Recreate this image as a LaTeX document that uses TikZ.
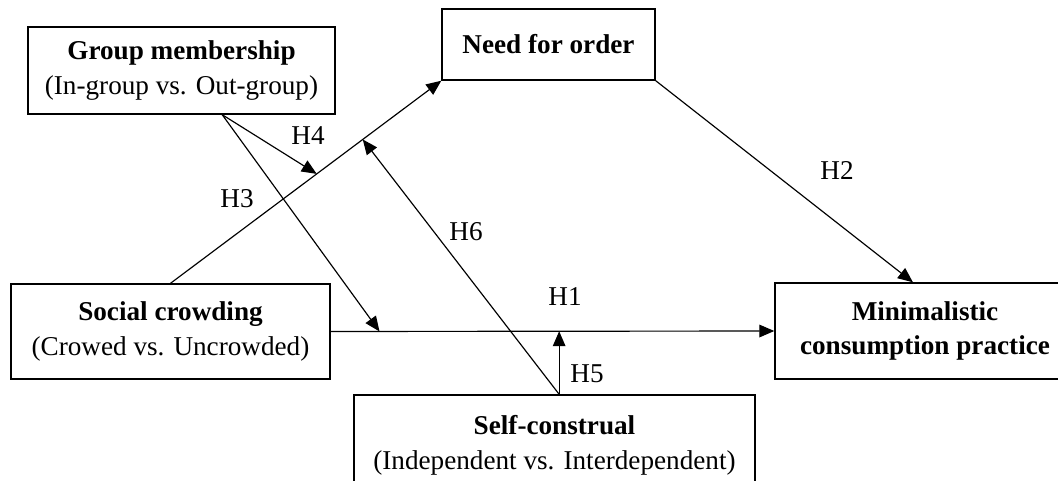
\documentclass[tikz,border=0pt]{standalone}
\usepackage{fontspec}
\setmainfont{Liberation Serif}
\usetikzlibrary{arrows.meta,calc}

\begin{document}
\begin{tikzpicture}[x=0.015cm,y=-0.015cm,
  box/.style={draw,line width=0.6pt,align=center,inner sep=2pt,font=\fontsize{11.6}{14.8}\selectfont},
  hyp/.style={-{Triangle[length=6.4pt,width=5.4pt]},line width=0.5pt},
  lab/.style={font=\fontsize{11.6}{14.8}\selectfont,inner sep=0pt}]
 \useasboundingbox (0,0) rectangle (1058,481);
 % boxes
 \node[box,minimum width=4.605cm,minimum height=1.305cm] (grp) at (181.5,70.5) {\textbf{Group membership}\\(In-group vs. Out-group)};
 \node[box,minimum width=3.195cm,minimum height=1.065cm] (need) at (548.5,44.5) {\textbf{Need for order}};
 \node[box,minimum width=4.785cm,minimum height=1.425cm] (soc) at (170.5,331.5) {\textbf{Social crowding}\\(Crowed vs. Uncrowded)};
 \node[box,minimum width=4.5cm,minimum height=1.44cm] (mini) at (925,331) {\textbf{Minimalistic}\\\textbf{consumption practice}};
 \node[box,minimum width=6.015cm,minimum height=1.5cm] (self) at (554.5,445) {\textbf{Self-construal}\\(Independent vs. Interdependent)};

 \coordinate (g4) at ($(grp.south west)!0.632!(grp.south east)$);
 \coordinate (m4) at ($(soc.north)!0.54!(need.south west)$);
 \coordinate (m6) at ($(soc.north)!0.71!(need.south west)$);
 \coordinate (m1) at ($(soc.east)!0.11!(mini.west)$);
 \coordinate (m5) at ($(soc.east)!0.515!(mini.west)$);
 \coordinate (s5) at (self.north -| m5);
 \coordinate (n2) at ($(mini.north west)!0.46!(mini.north east)$);

 % paths
 \draw[hyp] (soc.north) -- (need.south west);
 \draw[hyp] (soc.east) -- (mini.west);
 \draw[hyp] (need.south east) -- (n2);
 \draw[hyp] (g4) -- (m4);
 \draw[hyp] (g4) -- (m1);
 \draw[hyp] (s5) -- (m5);
 \draw[hyp] (s5) -- (m6);

 \node[lab] (l1) at (565,297) {H1};
 \node[lab] (l2) at (837,171) {H2};
 \node[lab] (l3) at (237,199) {H3};
 \node[lab] (l4) at (308,136) {H4};
 \node[lab] (l5) at (587,374) {H5};
 \node[lab] (l6) at (466,232) {H6};
\end{tikzpicture}
\end{document}
